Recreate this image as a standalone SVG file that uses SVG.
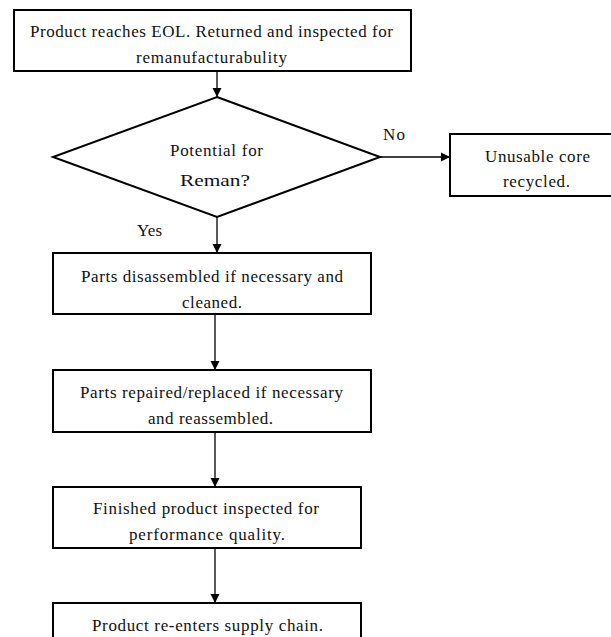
<svg xmlns="http://www.w3.org/2000/svg" width="611" height="637" viewBox="0 0 611 637">
<style>
.box{fill:#fff;stroke:#000;stroke-width:2}
.t{font-family:'Liberation Serif','Tinos','Times New Roman','Noto Serif','DejaVu Serif',serif;font-size:17px;fill:#111;text-anchor:middle}
.l{font-family:'Liberation Serif','Tinos','Times New Roman','Noto Serif','DejaVu Serif',serif;font-size:17px;fill:#111}
.c{stroke:#000;stroke-width:1.3;fill:none;marker-end:url(#ah)}
</style>
<defs>
<marker id="ah" markerWidth="10" markerHeight="10" refX="9" refY="5" orient="auto" markerUnits="userSpaceOnUse">
<path d="M0,0.5 L9,5 L0,9.5 Z" fill="#000"/>
</marker>
</defs>
<rect width="611" height="637" fill="#fff"/>
<g id="connectors">
<line class="c" x1="217" y1="71" x2="217" y2="97"/>
<line class="c" x1="380" y1="157" x2="450" y2="157"/>
<line class="c" x1="217" y1="217" x2="217" y2="253"/>
<line class="c" x1="215" y1="314" x2="215" y2="370"/>
<line class="c" x1="215" y1="432" x2="215" y2="487"/>
<line class="c" x1="215" y1="548" x2="215" y2="603"/>
</g>
<g id="n1"><rect class="box" x="14" y="10" width="397" height="61"/>
<text class="t" x="211.5" y="37" textLength="363">Product reaches EOL. Returned and inspected for</text>
<text class="t" x="211.5" y="63" textLength="151">remanufacturabulity</text></g>
<g id="n2"><polygon class="box" points="217,97 380,157 217,217 53,157"/>
<text class="t" x="216.5" y="156" textLength="93">Potential for</text>
<text class="t" x="215" y="186" textLength="70" lengthAdjust="spacingAndGlyphs">Reman?</text></g>
<g id="lblNo"><text class="l" x="383" y="140" textLength="22">No</text></g>
<g id="lblYes"><text class="l" x="137" y="236" textLength="25">Yes</text></g>
<g id="n3"><rect class="box" x="450" y="134" width="163" height="62"/>
<text class="t" x="537.5" y="162" textLength="105">Unusable core</text>
<text class="t" x="536.5" y="187" textLength="67">recycled.</text></g>
<g id="n4"><rect class="box" x="53" y="253" width="318" height="61"/>
<text class="t" x="212" y="282" textLength="262">Parts disassembled if necessary and</text>
<text class="t" x="212" y="308" textLength="60">cleaned.</text></g>
<g id="n5"><rect class="box" x="53" y="370" width="318" height="62"/>
<text class="t" x="211.5" y="398" textLength="263">Parts repaired/replaced if necessary</text>
<text class="t" x="210.5" y="424" textLength="125">and reassembled.</text></g>
<g id="n6"><rect class="box" x="53" y="487" width="308" height="61"/>
<text class="t" x="206" y="514" textLength="226">Finished product inspected for</text>
<text class="t" x="207" y="540" textLength="156">performance quality.</text></g>
<g id="n7"><rect class="box" x="53" y="603" width="308" height="50"/>
<text class="t" x="207.5" y="631" textLength="231">Product re-enters supply chain.</text></g>
</svg>
